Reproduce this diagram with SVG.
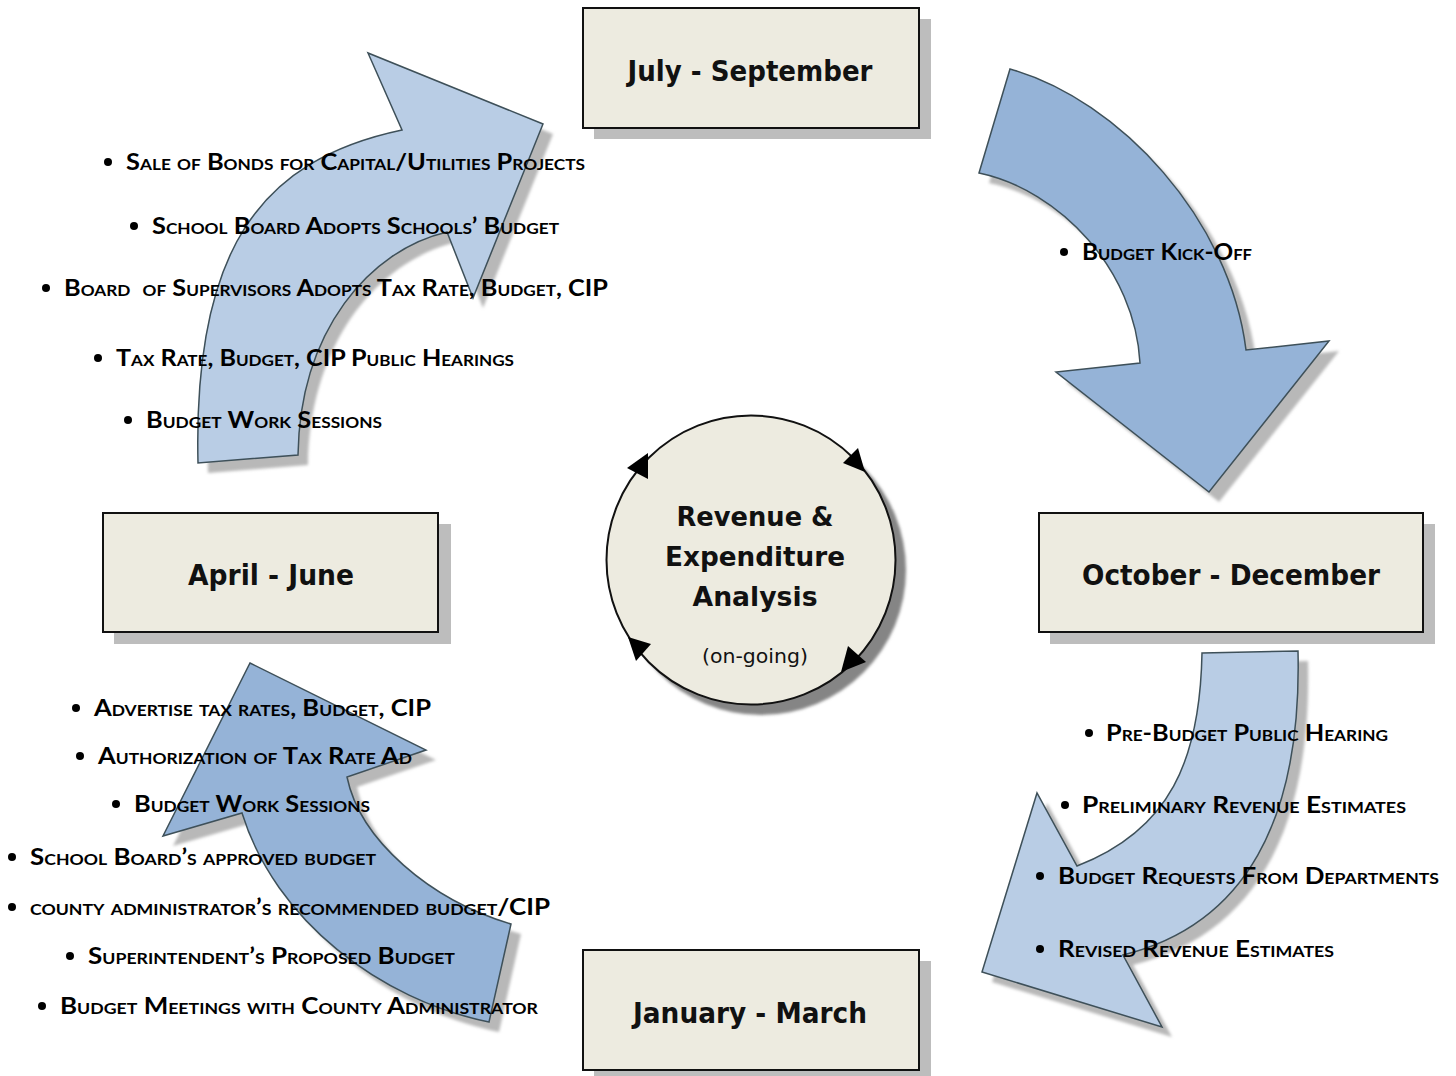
<svg xmlns="http://www.w3.org/2000/svg" width="1456" height="1076" viewBox="0 0 1456 1076">
<defs>
<filter id="blur" x="-10%" y="-10%" width="120%" height="120%"><feGaussianBlur stdDeviation="1.5"/></filter>
<path id="arrTL" d="M198,463 C193,250 260,160 402,130 L368,53 L543,124 L473,298 L447,232 C370,250 300,330 298,455 Z"/>
<path id="arrTR" d="M1010,69 C1120,100 1230,220 1246,350 L1329,341 L1209,492 L1056,372 L1140,363 C1135,270 1060,190 979,173 Z"/>
<path id="arrBR" d="M1202,653 L1298,651 C1302,820 1245,925 1123,955 L1162,1027 L982,972 L1037,793 L1077,866 C1170,830 1200,760 1202,653 Z"/>
<path id="arrBL" d="M250,663 L426,750 L347,777 C360,840 430,900 511,924 L489,1022 C380,1000 275,920 242,813 L163,836 Z"/>
</defs>
<style>
.box{fill:#edebe0;stroke:#111;stroke-width:2}
.shadow{fill:#bdbdbd}
.ashadow{fill:#b8b8b8;filter:url(#blur)}
.light{fill:#b9cde5;stroke:#3e5059;stroke-width:1.5}
.mid{fill:#95b3d7;stroke:#3e5059;stroke-width:1.5}
.title{font-family:"DejaVu Sans","Liberation Sans",sans-serif;font-weight:bold;font-size:28px;fill:#111;text-anchor:middle}
.ctext{font-family:"DejaVu Sans","Liberation Sans",sans-serif;font-weight:bold;font-size:27px;fill:#111;text-anchor:middle}
.cnote{font-family:"DejaVu Sans","Liberation Sans",sans-serif;font-size:19px;fill:#111;text-anchor:middle}
.item{font-family:Lato,"Open Sans",sans-serif;font-weight:bold;font-size:23.5px;font-variant:small-caps;fill:#000}
.dot{fill:#000}
.ahead{fill:#000}
</style>

<g id="connectors">
<g id="arrow-top-left">
<use href="#arrTL" class="ashadow" transform="translate(10,10)"/>
<use href="#arrTL" class="light"/>
</g>
<g id="arrow-top-right">
<use href="#arrTR" class="ashadow" transform="translate(10,10)"/>
<use href="#arrTR" class="mid"/>
</g>
<g id="arrow-bottom-right">
<use href="#arrBR" class="ashadow" transform="translate(10,10)"/>
<use href="#arrBR" class="light"/>
</g>
<g id="arrow-bottom-left">
<use href="#arrBL" class="ashadow" transform="translate(10,10)"/>
<use href="#arrBL" class="mid"/>
</g>
</g>

<g id="node-jul-sep">
<rect class="shadow" x="594" y="19" width="337" height="120"/>
<rect class="box" x="583" y="8" width="336" height="120"/>
<text class="title" x="750" y="81" textLength="245" lengthAdjust="spacingAndGlyphs">July - September</text>
</g>
<g id="node-oct-dec">
<rect class="shadow" x="1050" y="524" width="385" height="120"/>
<rect class="box" x="1039" y="513" width="384" height="119"/>
<text class="title" x="1231" y="585" textLength="298" lengthAdjust="spacingAndGlyphs">October - December</text>
</g>
<g id="node-jan-mar">
<rect class="shadow" x="594" y="961" width="337" height="115"/>
<rect class="box" x="583" y="950" width="336" height="120"/>
<text class="title" x="750" y="1023" textLength="234" lengthAdjust="spacingAndGlyphs">January - March</text>
</g>
<g id="node-apr-jun">
<rect class="shadow" x="114" y="524" width="337" height="120"/>
<rect class="box" x="103" y="513" width="335" height="119"/>
<text class="title" x="271" y="585" textLength="166" lengthAdjust="spacingAndGlyphs">April - June</text>
</g>

<g id="node-center">
<circle cx="761" cy="570" r="145" fill="#858585" filter="url(#blur)"/>
<circle cx="751" cy="560" r="144.5" fill="#edebe0" stroke="#111" stroke-width="2"/>
<polygon class="ahead" points="627,468 648,453 648,479"/>
<polygon class="ahead" points="865,472 843,463 858,448"/>
<polygon class="ahead" points="628,637 651,644 636,661"/>
<polygon class="ahead" points="841,672 848,646 866,662"/>
<text class="ctext" x="755" y="526" textLength="157" lengthAdjust="spacingAndGlyphs">Revenue &amp;</text>
<text class="ctext" x="755" y="566" textLength="180" lengthAdjust="spacingAndGlyphs">Expenditure</text>
<text class="ctext" x="755" y="606" textLength="125" lengthAdjust="spacingAndGlyphs">Analysis</text>
<text class="cnote" x="755" y="663" textLength="106" lengthAdjust="spacingAndGlyphs">(on-going)</text>
</g>

<g id="list-jul-sep">
<circle class="dot" cx="108" cy="162" r="4"/>
<text class="item" x="126" y="170" textLength="459" lengthAdjust="spacingAndGlyphs">Sale of Bonds for Capital/Utilities Projects</text>
<circle class="dot" cx="134" cy="226" r="4"/>
<text class="item" x="152" y="234" textLength="407" lengthAdjust="spacingAndGlyphs">School Board Adopts Schools’ Budget</text>
<circle class="dot" cx="46" cy="288" r="4"/>
<text class="item" x="64" y="296" textLength="544" lengthAdjust="spacingAndGlyphs" xml:space="preserve">Board  of Supervisors Adopts Tax Rate, Budget, CIP</text>
<circle class="dot" cx="98" cy="358" r="4"/>
<text class="item" x="116" y="366" textLength="398" lengthAdjust="spacingAndGlyphs">Tax Rate, Budget, CIP Public Hearings</text>
<circle class="dot" cx="128" cy="420" r="4"/>
<text class="item" x="146" y="428" textLength="236" lengthAdjust="spacingAndGlyphs">Budget Work Sessions</text>
</g>

<g id="list-oct-dec">
<circle class="dot" cx="1064" cy="252" r="4"/>
<text class="item" x="1082" y="260" textLength="170" lengthAdjust="spacingAndGlyphs">Budget Kick-Off</text>
</g>

<g id="list-jan-mar">
<circle class="dot" cx="1089" cy="733" r="4"/>
<text class="item" x="1106" y="741" textLength="282" lengthAdjust="spacingAndGlyphs">Pre-Budget Public Hearing</text>
<circle class="dot" cx="1065" cy="805" r="4"/>
<text class="item" x="1082" y="813" textLength="324" lengthAdjust="spacingAndGlyphs">Preliminary Revenue Estimates</text>
<circle class="dot" cx="1040" cy="876" r="4"/>
<text class="item" x="1058" y="884" textLength="381" lengthAdjust="spacingAndGlyphs">Budget Requests From Departments</text>
<circle class="dot" cx="1040" cy="949" r="4"/>
<text class="item" x="1058" y="957" textLength="276" lengthAdjust="spacingAndGlyphs">Revised Revenue Estimates</text>
</g>

<g id="list-apr-jun">
<circle class="dot" cx="76" cy="708" r="4"/>
<text class="item" x="94" y="716" textLength="337" lengthAdjust="spacingAndGlyphs">Advertise tax rates, Budget, CIP</text>
<circle class="dot" cx="80" cy="756" r="4"/>
<text class="item" x="98" y="764" textLength="314" lengthAdjust="spacingAndGlyphs">Authorization of Tax Rate Ad</text>
<circle class="dot" cx="116" cy="804" r="4"/>
<text class="item" x="134" y="812" textLength="236" lengthAdjust="spacingAndGlyphs">Budget Work Sessions</text>
<circle class="dot" cx="12" cy="857" r="4"/>
<text class="item" x="30" y="865" textLength="346" lengthAdjust="spacingAndGlyphs">School Board’s approved budget</text>
<circle class="dot" cx="12" cy="907" r="4"/>
<text class="item" x="30" y="915" textLength="520" lengthAdjust="spacingAndGlyphs">county administrator’s recommended budget/CIP</text>
<circle class="dot" cx="70" cy="956" r="4"/>
<text class="item" x="88" y="964" textLength="367" lengthAdjust="spacingAndGlyphs">Superintendent’s Proposed Budget</text>
<circle class="dot" cx="42" cy="1006" r="4"/>
<text class="item" x="60" y="1014" textLength="478" lengthAdjust="spacingAndGlyphs">Budget Meetings with County Administrator</text>
</g>
</svg>
